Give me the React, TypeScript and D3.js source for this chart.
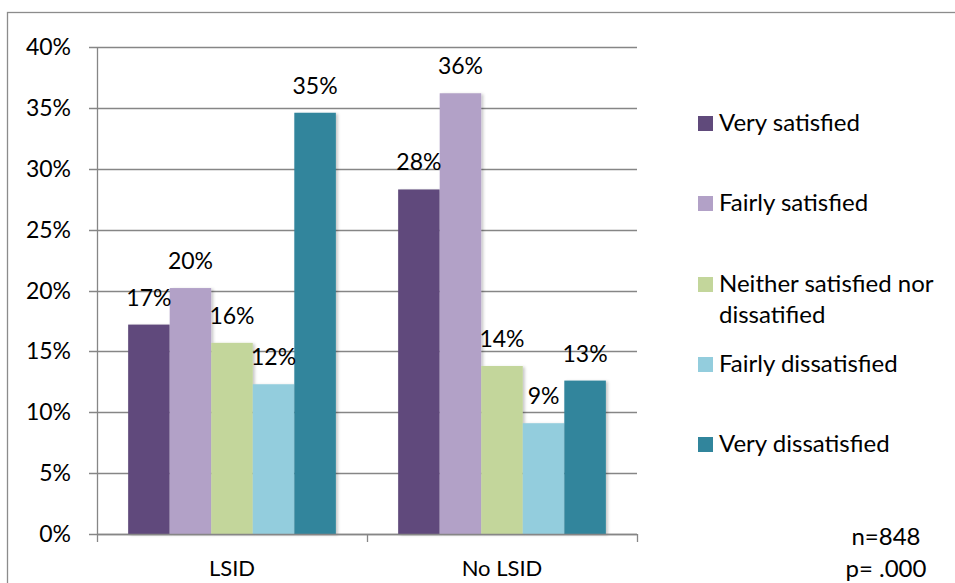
import {useEffect, useRef} from "react"

import * as d3 from "d3"

const categories = ["LSID", "No LSID"]
const seriesNames = [
  "Very satisfied",
  "Fairly satisfied",
  "Neither satisfied nor dissatified",
  "Fairly dissatisfied",
  "Very dissatisfied",
]
const lsidValues = [17.2, 20.2, 15.7, 12.3, 34.6]
const noLsidValues = [28.3, 36.2, 13.8, 9.1, 12.6]
const valueLabels = [
  ["17%", "20%", "16%", "12%", "35%"],
  ["28%", "36%", "14%", "9%", "13%"],
]
const yTicks = [0, 5, 10, 15, 20, 25, 30, 35, 40]
const colors = ["#604a7b", "#b2a1c7", "#c3d69b", "#93cddd", "#31859c"]
const legendLines = [
  ["Very satisfied"],
  ["Fairly satisfied"],
  ["Neither satisfied nor", "dissatified"],
  ["Fairly dissatisfied"],
  ["Very dissatisfied"],
]
const notes = ["n=848", "p= .000"]

const width = 955
const height = 583
const plot = {left: 97, right: 637, top: 47, bottom: 534}
const font = "Lato, 'Open Sans', sans-serif"
const gridColor = "#868686"

const App = (): JSX.Element => {
  const ref = useRef<SVGSVGElement>(null)

  useEffect(() => {
    const svg = d3.select(ref.current)
    svg.selectAll("*").remove()

    const defs = svg.append("defs")
    const filter = defs.append("filter").attr("id", "shadow").attr("x", "-20%").attr("width", "150%")
    filter
      .append("feDropShadow")
      .attr("dx", 2)
      .attr("dy", 1)
      .attr("stdDeviation", 1.5)
      .attr("flood-color", "#000")
      .attr("flood-opacity", 0.22)

    // outer frame
    svg
      .append("rect")
      .attr("x", 7.5)
      .attr("y", 12.5)
      .attr("width", width + 20)
      .attr("height", height + 20)
      .attr("fill", "none")
      .attr("stroke", "#8c8c8c")
      .attr("stroke-width", 1.3)

    const y = d3.scaleLinear().domain([0, 40]).range([plot.bottom, plot.top])
    const x0 = d3.scaleBand().domain(categories).range([plot.left, plot.right]).paddingInner(0).paddingOuter(0)
    const x1 = d3
      .scaleBand()
      .domain(seriesNames)
      .range([0, x0.bandwidth()])
      .paddingInner(0)
      .paddingOuter(0.75)

    const g = svg.append("g")

    // gridlines + y ticks
    for (const t of yTicks) {
      g.append("line")
        .attr("x1", plot.left - 8)
        .attr("x2", plot.right)
        .attr("y1", Math.round(y(t)) + 0.5)
        .attr("y2", Math.round(y(t)) + 0.5)
        .attr("stroke", gridColor)
        .attr("stroke-width", 1.3)
      g.append("text")
        .attr("x", 71)
        .attr("y", y(t))
        .attr("dy", "0.35em")
        .attr("text-anchor", "end")
        .attr("font-family", font)
        .attr("font-size", 23)
        .attr("fill", "#000")
        .text(`${t}%`)
    }

    // y axis line
    g.append("line")
      .attr("x1", plot.left + 0.5)
      .attr("x2", plot.left + 0.5)
      .attr("y1", plot.top)
      .attr("y2", plot.bottom)
      .attr("stroke", gridColor)
      .attr("stroke-width", 1.3)

    // bars
    const allValues = [lsidValues, noLsidValues]
    categories.forEach((cat, ci) => {
      const vals = allValues[ci]
      seriesNames.forEach((name, si) => {
        const bx = (x0(cat) ?? 0) + (x1(name) ?? 0)
        g.append("rect")
          .attr("x", bx)
          .attr("y", y(vals[si]))
          .attr("width", x1.bandwidth())
          .attr("height", y(0) - y(vals[si]))
          .attr("fill", colors[si])
          .attr("filter", "url(#shadow)")
      })
    })

    // x axis
    g.append("line")
      .attr("x1", plot.left)
      .attr("x2", plot.right)
      .attr("y1", plot.bottom + 0.5)
      .attr("y2", plot.bottom + 0.5)
      .attr("stroke", gridColor)
      .attr("stroke-width", 1.3)
    const edges = [plot.left, ...categories.map((c) => (x0(c) ?? 0) + x0.bandwidth())]
    for (const ex of edges) {
      g.append("line")
        .attr("x1", ex + 0.5)
        .attr("x2", ex + 0.5)
        .attr("y1", plot.bottom)
        .attr("y2", plot.bottom + 8)
        .attr("stroke", gridColor)
        .attr("stroke-width", 1.3)
    }
    for (const cat of categories) {
      g.append("text")
        .attr("x", (x0(cat) ?? 0) + x0.bandwidth() / 2)
        .attr("y", 576)
        .attr("text-anchor", "middle")
        .attr("font-family", font)
        .attr("font-size", 22)
        .text(cat)
    }

    // value labels
    categories.forEach((cat, ci) => {
      const vals = allValues[ci]
      seriesNames.forEach((name, si) => {
        const cx = (x0(cat) ?? 0) + (x1(name) ?? 0) + x1.bandwidth() / 2
        g.append("text")
          .attr("x", cx)
          .attr("y", y(vals[si]) - 19)
          .attr("text-anchor", "middle")
          .attr("font-family", font)
          .attr("font-size", 23)
          .text(valueLabels[ci][si])
      })
    })

    // legend
    const legendBaselines = [131, 211, 292, 372, 452]
    legendLines.forEach((lines, i) => {
      const ly = legendBaselines[i]
      g.append("rect")
        .attr("x", 698)
        .attr("y", ly - 15)
        .attr("width", 15)
        .attr("height", 15)
        .attr("fill", colors[i])
      lines.forEach((line, li) => {
        g.append("text")
          .attr("x", 719)
          .attr("y", ly + li * 31)
          .attr("font-family", font)
          .attr("font-size", 24)
          .text(line)
      })
    })

    // notes
    notes.forEach((note, i) => {
      g.append("text")
        .attr("x", 886)
        .attr("y", 545 + i * 32)
        .attr("text-anchor", "middle")
        .attr("font-family", font)
        .attr("font-size", 24)
        .text(note)
    })
  }, [])

  return (
    <svg
      ref={ref}
      width={width}
      height={height}
      style={{position: "absolute", left: 0, top: 0, background: "#fff"}}
    />
  )
}

export default App
